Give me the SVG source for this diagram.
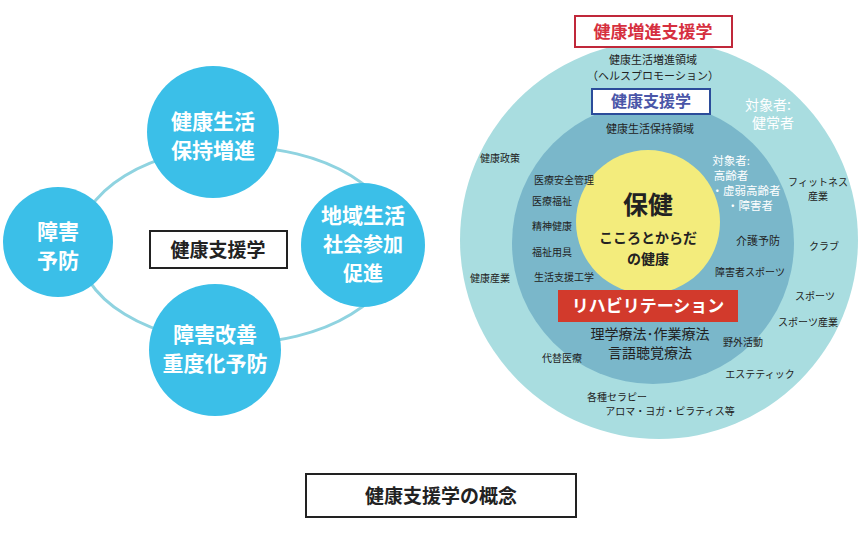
<svg xmlns="http://www.w3.org/2000/svg" width="865" height="540" viewBox="0 0 865 540">
<style>
text{font-family:"Noto Sans CJK JP","Noto Sans",sans-serif;text-anchor:middle}
.cw{fill:#fff;font-size:21px;font-weight:bold}
.s{font-size:10px;fill:#222}
.m{font-size:11px;fill:#222}
.w{font-size:11.5px;fill:#fff}
.b{fill:#3bbfe8}
</style>
<g id="connectors"><ellipse cx="238" cy="245" rx="160" ry="98" fill="none" stroke="#8fd3e0" stroke-width="3"/></g>
<g id="n1"><circle class="b" cx="213" cy="132" r="66"/><text class="cw" x="213" y="129">健康生活</text><text class="cw" x="213" y="158">保持増進</text></g>
<g id="n2"><circle class="b" cx="58" cy="242" r="55"/><text class="cw" x="58" y="239">障害</text><text class="cw" x="58" y="268">予防</text></g>
<g id="n3"><circle class="b" cx="363" cy="245" r="62"/><text x="363" y="223" class="cw" font-size="20">地域生活</text><text x="363" y="252" class="cw" style="font-size:20px">社会参加</text><text x="363" y="281" class="cw" style="font-size:20px">促進</text></g>
<g id="n4"><circle class="b" cx="215" cy="350" r="66"/><text class="cw" x="215" y="342">障害改善</text><text class="cw" x="215" y="371">重度化予防</text></g>
<g id="center"><rect x="150" y="231" width="137" height="37" fill="#fff" stroke="#222" stroke-width="2"/><text x="218" y="257" font-size="19" font-weight="bold" fill="#222">健康支援学</text></g>
<g id="outer"><circle cx="659" cy="240" r="199" fill="#a9dde0"/></g>
<g id="middle"><circle cx="653" cy="243" r="141" fill="#7ab7ca"/></g>
<g id="inner"><circle cx="648" cy="222" r="72" fill="#f3ec7c"/>
<text x="648" y="214" font-size="25" font-weight="bold" fill="#222">保健</text>
<text x="648" y="243" font-size="14" font-weight="bold" fill="#222">こころとからだ</text>
<text x="648" y="264" font-size="14" font-weight="bold" fill="#222">の健康</text></g>
<g id="title1"><rect x="575" y="16" width="157" height="31" fill="#fff" stroke="#c0283a" stroke-width="2"/><text x="653" y="38" font-size="17" font-weight="bold" fill="#d6303f">健康増進支援学</text></g>
<g id="title2"><rect x="592" y="89" width="118" height="25" fill="#fff" stroke="#2b4c9a" stroke-width="2"/><text x="651" y="107" font-size="16" font-weight="bold" fill="#4a56a8">健康支援学</text></g>
<g id="reha"><rect x="558" y="290" width="180" height="32" fill="#d23a2c"/><text x="648" y="312" font-size="17" font-weight="bold" fill="#fff">リハビリテーション</text></g>
<g id="labels">
<text class="m" x="653" y="64">健康生活増進領域</text>
<text class="m" x="653" y="80">（ヘルスプロモーション）</text>
<text class="m" x="650" y="133">健康生活保持領域</text>
<text x="768" y="110" font-size="14" fill="#fff">対象者:</text>
<text x="773" y="128" font-size="14" fill="#fff">健常者</text>
<text class="w" x="731" y="165">対象者:</text>
<text class="w" x="731" y="180">高齢者</text>
<text class="w" x="746" y="195">・虚弱高齢者</text>
<text class="w" x="750" y="210">・障害者</text>
<text class="s" x="500" y="162">健康政策</text>
<text class="s" x="564" y="184">医療安全管理</text>
<text class="s" x="552" y="205">医療福祉</text>
<text class="s" x="552" y="230">精神健康</text>
<text class="s" x="552" y="256">福祉用具</text>
<text class="s" x="564" y="281">生活支援工学</text>
<text class="s" x="490" y="282">健康産業</text>
<text class="m" x="758" y="245">介護予防</text>
<text class="s" x="750" y="276">障害者スポーツ</text>
<text class="s" x="818" y="186">フィットネス</text>
<text class="s" x="818" y="200">産業</text>
<text class="s" x="824" y="250">クラブ</text>
<text class="s" x="815" y="300">スポーツ</text>
<text class="s" x="808" y="326">スポーツ産業</text>
<text class="s" x="743" y="346">野外活動</text>
<text class="s" x="760" y="378">エステティック</text>
<text class="s" x="562" y="362">代替医療</text>
<text class="s" x="617" y="401">各種セラピー</text>
<text class="s" x="670" y="415">アロマ・ヨガ・ピラティス等</text>
<text x="650" y="339" font-size="14" fill="#222">理学療法･作業療法</text>
<text x="650" y="358" font-size="14" fill="#222">言語聴覚療法</text>
</g>
<g id="caption"><rect x="306" y="474" width="270" height="43" fill="#fff" stroke="#222" stroke-width="2"/><text x="441" y="503" font-size="19" font-weight="bold" fill="#222">健康支援学の概念</text></g>
</svg>
